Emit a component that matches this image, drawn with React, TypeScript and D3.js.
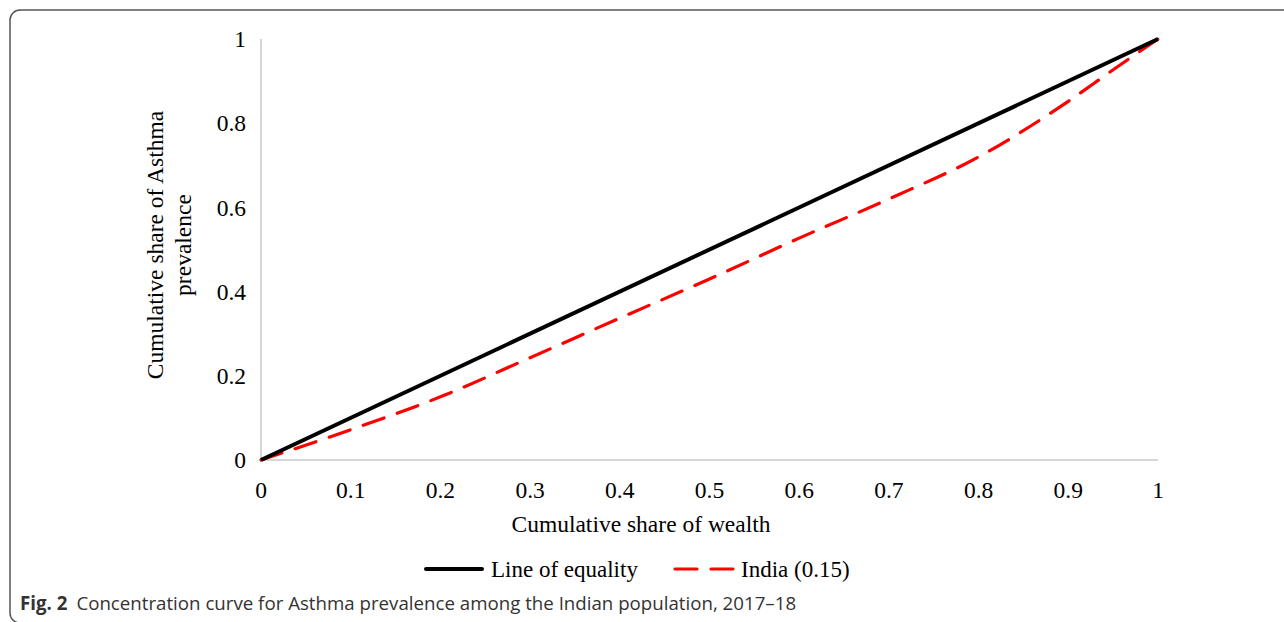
import { line, curveMonotoneX, scaleLinear } from 'd3';

const width = 1284;
const height = 622;

// cumulative share of wealth (x) and asthma prevalence (y)
const wealthShare = [0, 0.1, 0.2, 0.3, 0.4, 0.5, 0.6, 0.7, 0.8, 0.9, 0.95, 1];
const indiaShare = [0, 0.072, 0.15, 0.243, 0.337, 0.43, 0.527, 0.62, 0.72, 0.852, 0.927, 1];
const equalityShare = [0, 1];
const xTicks = [0, 0.1, 0.2, 0.3, 0.4, 0.5, 0.6, 0.7, 0.8, 0.9, 1];
const yTicks = [0, 0.2, 0.4, 0.6, 0.8, 1];

const serif = '"Liberation Serif", "Times New Roman", serif';

function App() {
  const x = scaleLinear().domain([0, 1]).range([261, 1158]);
  const y = scaleLinear().domain([0, 1]).range([460, 39]);

  const lineGen = line<[number, number]>()
    .x((d) => x(d[0]))
    .y((d) => y(d[1]));
  const smoothGen = line<[number, number]>()
    .x((d) => x(d[0]))
    .y((d) => y(d[1]))
    .curve(curveMonotoneX);

  const equality = equalityShare.map((v) => [v, v] as [number, number]);
  const india = wealthShare.map((v, i) => [v, indiaShare[i]] as [number, number]);

  return (
    <svg
      width={width}
      height={height}
      style={{ position: 'absolute', left: 0, top: 0, background: '#fff' }}
    >
      <rect x={10} y={10} width={1300} height={613} rx={10} fill="none" stroke="#555" strokeWidth={1.5} />

      {/* axes */}
      <line x1={x(0)} x2={x(0)} y1={y(1)} y2={y(0)} stroke="#c8c8c8" strokeWidth={1.5} />
      <line x1={x(0)} x2={x(1)} y1={y(0)} y2={y(0)} stroke="#c8c8c8" strokeWidth={1.5} />

      {yTicks.map((t) => (
        <text key={'y' + t} x={246} y={y(t)} dy="0.35em" textAnchor="end" fontFamily={serif} fontSize={23.5} fill="#000">
          {t}
        </text>
      ))}
      {xTicks.map((t) => (
        <text key={'x' + t} x={x(t)} y={490} dy="0.35em" textAnchor="middle" fontFamily={serif} fontSize={23.5} fill="#000">
          {t}
        </text>
      ))}

      <text x={641} y={524} dy="0.35em" textAnchor="middle" fontFamily={serif} fontSize={23.5} fill="#000">
        Cumulative share of wealth
      </text>
      <text transform="translate(155,245) rotate(-90)" textAnchor="middle" dy="0.35em" fontFamily={serif} fontSize={23.5} fill="#000">
        Cumulative share of Asthma
      </text>
      <text transform="translate(183,245) rotate(-90)" textAnchor="middle" dy="0.35em" fontFamily={serif} fontSize={23.5} fill="#000">
        prevalence
      </text>

      <path d={smoothGen(india) ?? ''} fill="none" stroke="#ff0000" strokeWidth={3.2} strokeDasharray="22 14" strokeLinecap="round" />
      <path d={lineGen(equality) ?? ''} fill="none" stroke="#000" strokeWidth={4} />

      {/* legend */}
      <line x1={426} x2={482} y1={569} y2={569} stroke="#000" strokeWidth={4} strokeLinecap="round" />
      <text x={491} y={569} dy="0.35em" fontFamily={serif} fontSize={23} fill="#000">
        Line of equality
      </text>
      <line x1={675} x2={735} y1={569} y2={569} stroke="#ff0000" strokeWidth={3.2} strokeDasharray="22 14" strokeLinecap="round" />
      <text x={741} y={569} dy="0.35em" fontFamily={serif} fontSize={23} fill="#000">
        India (0.15)
      </text>

      {/* caption */}
      <text x={20} y={610} fontFamily='"Open Sans", "Noto Sans", sans-serif' fontSize={18.7} fill="#333">
        <tspan fontWeight="bold">Fig. 2</tspan>
        <tspan dx={9}>Concentration curve for Asthma prevalence among the Indian population, 2017–18</tspan>
      </text>
    </svg>
  );
}

export default App;
